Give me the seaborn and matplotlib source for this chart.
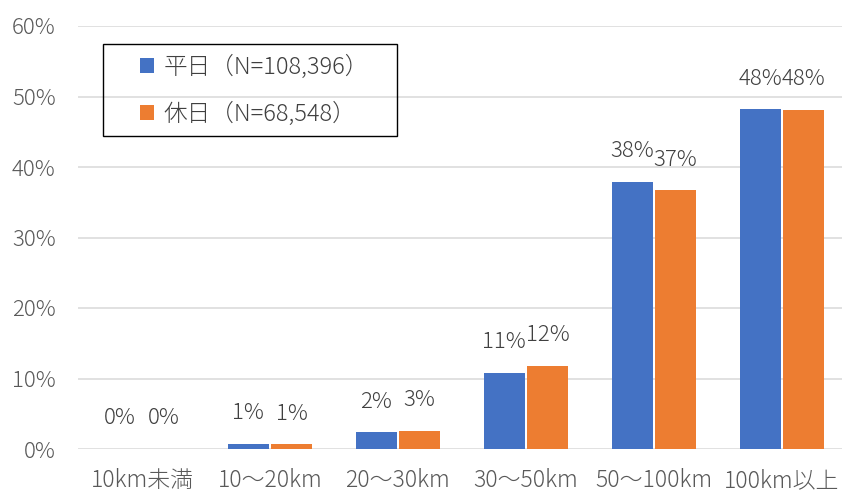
import matplotlib
matplotlib.use("Agg")
import matplotlib.pyplot as plt
from matplotlib.patches import Patch, Rectangle
from matplotlib.ticker import FuncFormatter, MultipleLocator
import pandas as pd
import seaborn as sns

# Trip distance bands and share of trips (%) for weekdays / holidays
categories = ["10km未満", "10～20km", "20～30km", "30～50km", "50～100km", "100km以上"]
weekday = [0.05, 0.71, 2.36, 10.8, 37.9, 48.2]
holiday = [0.05, 0.67, 2.55, 11.8, 36.7, 48.1]
series_names = ["平日（N=108,396）", "休日（N=68,548）"]
colors = ["#4472C4", "#ED7D31"]

df = pd.DataFrame({
    "区分": categories * 2,
    "割合": weekday + holiday,
    "曜日": [series_names[0]] * len(categories) + [series_names[1]] * len(categories),
})

sns.set_theme(style="white")
plt.rcParams["font.family"] = ["Noto Sans CJK JP", "DejaVu Sans"]
plt.rcParams["font.weight"] = "light"

fig = plt.figure(figsize=(8.42, 4.95), dpi=100)
ax = fig.add_axes([78 / 842, 46 / 495, 1 - 78 / 842, 423 / 495])

sns.barplot(data=df, x="区分", y="割合", hue="曜日", order=categories,
            hue_order=series_names, palette=colors, width=0.68, gap=0.06,
            saturation=1, edgecolor="none", legend=False, ax=ax)

ax.set_ylim(0, 60)
ax.set_xlim(-0.5, 5.47)
ax.yaxis.set_major_locator(MultipleLocator(10))
ax.yaxis.set_major_formatter(FuncFormatter(lambda v, _: f"{v:.0f}%"))
ax.grid(axis="y", color="#D9D9D9", linewidth=1.1)
ax.set_axisbelow(True)
for side in ["left", "right", "top", "bottom"]:
    ax.spines[side].set_visible(False)
ax.set_xlabel("")
ax.set_ylabel("")
ax.tick_params(axis="y", length=0, pad=16, labelsize=16, labelcolor="#595959")
ax.tick_params(axis="x", length=0, pad=14, labelsize=16.5, labelcolor="#595959")

# value labels above each bar
for container, values in zip(ax.containers, [weekday, holiday]):
    for bar, v in zip(container, values):
        ax.annotate(f"{v:.0f}%", (bar.get_x() + bar.get_width() / 2, bar.get_height()),
                    xytext=(0, 22), textcoords="offset points", ha="center", va="center",
                    fontsize=16, color="#404040")

# legend with a square black frame
fig.patches.append(Rectangle((103 / 842, 1 - 136 / 495), 294 / 842, 92 / 495,
                             transform=fig.transFigure, fill=False,
                             edgecolor="#000000", linewidth=1.0, zorder=5))
handles = [Patch(facecolor=c, edgecolor="none") for c in colors]
fig.legend(handles, series_names, loc="upper left",
           bbox_to_anchor=(123 / 842, 1 - 38 / 495), frameon=False,
           fontsize=17, labelcolor="#404040", handlelength=0.62, handleheight=0.62,
           handletextpad=0.38, labelspacing=0.95, borderpad=0.2)

fig.savefig("out.png", dpi=100)
